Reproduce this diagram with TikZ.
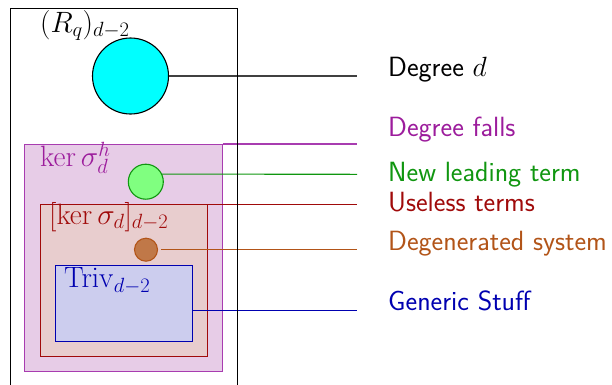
\RequirePackage{fix-cm}
\documentclass[tikz,border=0pt]{standalone}
\definecolor{mycyan}{RGB}{0,255,255}
\definecolor{mypurple}{RGB}{156,28,156}
\definecolor{mypurpleline}{RGB}{168,60,176}
\definecolor{mypurplefill}{RGB}{231,204,231}
\definecolor{myred}{RGB}{160,10,10}
\definecolor{myredfill}{RGB}{232,205,206}
\definecolor{mygreen}{RGB}{16,150,16}
\definecolor{mygreenfill}{RGB}{128,255,128}
\definecolor{mybrown}{RGB}{178,84,24}
\definecolor{mybrownfill}{RGB}{192,120,72}
\definecolor{myblue}{RGB}{0,0,176}
\definecolor{mybluefill}{RGB}{204,205,238}
\tikzset{
  lbl/.style={anchor=base west, inner sep=0pt, font=\fontsize{29.4}{34}\selectfont},
  rlbl/.style={anchor=base west, inner sep=0pt, font=\fontsize{27.8}{33}\selectfont\sffamily},
  conn/.style={line width=1.1pt},
  boxed/.style={line width=1.1pt},
}
\begin{document}
\begin{tikzpicture}[x=1pt,y=-1pt]
\useasboundingbox (0,0) rectangle (612,384);
% cyan circle
\node[circle, draw=black, fill=mycyan, line width=1.1pt, minimum size=76pt, inner sep=0pt] (cyan) at (130.5,76) {};
% purple box
\node[draw=mypurpleline, fill=mypurplefill, boxed, minimum width=197.4pt, minimum height=226.7pt, inner sep=0pt, anchor=north west] (pbox) at (24.3,144) {};
% red box
\node[draw=myred, fill=myredfill, boxed, minimum width=167pt, minimum height=151.4pt, inner sep=0pt, anchor=north west] (rbox) at (39.7,204.3) {};
% blue box
\node[draw=myblue, fill=mybluefill, boxed, minimum width=136.7pt, minimum height=76pt, inner sep=0pt, anchor=north west] (bbox) at (55,264.7) {};
% green circle
\node[circle, draw=mygreen, fill=mygreenfill, line width=1.1pt, minimum size=35pt, inner sep=0pt] (gc) at (145.8,181.7) {};
% brown circle
\node[circle, draw=mybrown, fill=mybrownfill, line width=1.1pt, minimum size=23pt, inner sep=0pt] (bc) at (146,249.7) {};
% left labels
\node[lbl] (lrq) at (40,32) {$(R_q)_{d-2}$};
\node[lbl, text=mypurple] (lker) at (40,166.7) {$\ker\sigma_d^h$};
\node[lbl, text=myred] (lkerd) at (49,224.3) {$[\ker\sigma_d]_{d-2}$};
\node[lbl, text=myblue] (ltriv) at (64,287.7) {$\mathrm{Triv}_{d-2}$};
% right labels
\node[rlbl] (t1) at (388,76) {Degree $d$};
\node[rlbl, text=mypurple] (t2) at (388,136) {Degree falls};
\node[rlbl, text=mygreen] (t3) at (388,181.7) {New leading term};
\node[rlbl, text=myred] (t4) at (388,211.7) {Useless terms};
\node[rlbl, text=mybrown] (t5) at (388,250) {Degenerated system};
\node[rlbl, text=myblue] (t6) at (388,310) {Generic Stuff};
% connector ends
\coordinate (e1) at (357,76);
\coordinate (e2) at (357,144);
\coordinate (e3) at (357,174.3);
\coordinate (e4) at (357,204.3);
\coordinate (e5) at (357,249.7);
\coordinate (e6) at (357,310.3);
\draw[conn, black!75] (cyan.east) -- (e1);
\draw[conn, mypurpleline] (pbox.north east) -- (e2);
\draw[conn, mygreen] (gc.25) -- (e3);
\draw[conn, myred] (rbox.north east) -- (e4);
\draw[conn, mybrown, shorten <=3pt] (bc.east) -- (e5);
\draw[conn, myblue] (bbox.east |- e6) -- (e6);
% outer box
\node[draw=black, line width=1.1pt, minimum width=226.7pt, minimum height=400pt, inner sep=0pt, anchor=north west] (outer) at (10,7.8) {};
\end{tikzpicture}
\end{document}
